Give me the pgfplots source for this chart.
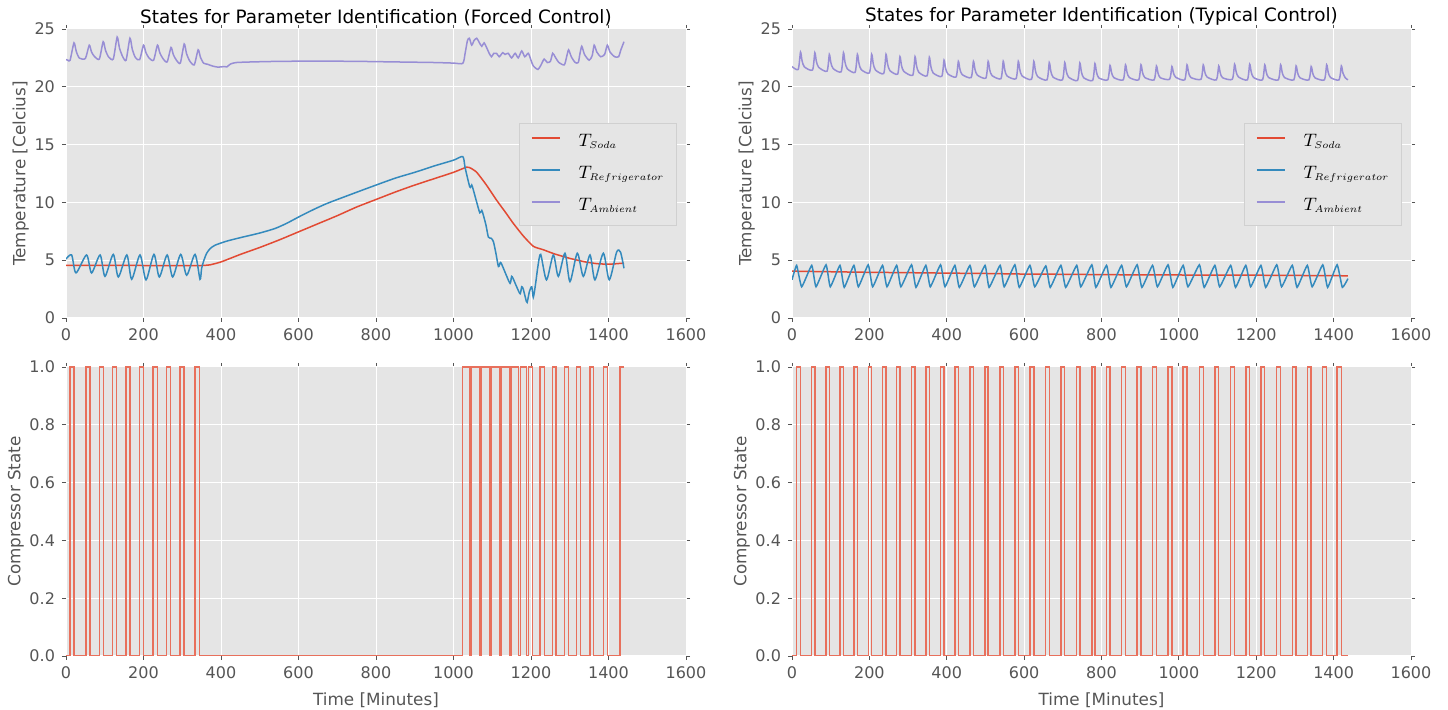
\documentclass[border=0pt]{standalone}
\usepackage{graphicx}
\usepackage{fontspec}
\setmainfont{DejaVu Sans}
\DeclareMathSizes{9}{9}{6}{5}
\usepackage{pgfplots}
\pgfplotsset{compat=1.18}
\newcommand\sub[1]{\scalebox{0.82}{$\scriptstyle #1$}}
\definecolor{ggbg}{HTML}{E5E5E5}
\definecolor{ggred}{HTML}{E24A33}
\definecolor{ggblue}{HTML}{348ABD}
\definecolor{ggpurple}{HTML}{988ED5}
\definecolor{ggtext}{HTML}{555555}
\definecolor{legedge}{HTML}{D0D0D0}
\definecolor{pulse}{HTML}{E8705C}
\pgfplotsset{
 ggstyle/.style={
  scale only axis, height=144.5pt,
  axis background/.style={fill=ggbg},
  axis line style={white, line width=0.5pt},
  grid=major, major grid style={white, line width=0.5pt},
  tick align=outside, major tick length=2pt,
  tick style={ggtext, line width=0.4pt},
  xmin=0, xmax=1600, xtick={0,200,...,1600},
  ticklabel style={font=\fontsize{8}{9.6}\selectfont, text=ggtext},
  /pgf/number format/assume math mode=true,
  /pgf/number format/1000 sep={},
  scaled ticks=false,
  label style={font=\fontsize{8.4}{10}\selectfont, text=ggtext},
  ylabel shift=-4pt,
  title style={font=\fontsize{9.2}{11}\selectfont, text=black, yshift=-6pt, inner sep=1.5pt},
 },
 tempstyle/.style={
  ymin=0, ymax=25, ytick={0,5,...,25},
  ylabel={Temperature [Celcius]},
  legend cell align=left,
  legend style={at={(0.985,0.674)}, anchor=north east, fill=ggbg, draw=legedge,
    inner xsep=6pt, inner ysep=5pt, row sep=7.3pt, column sep=9pt,
    font=\fontsize{9}{11}\selectfont, nodes={inner sep=0pt, text height=6.3pt, text depth=2.5pt}},
  legend image code/.code={\draw[##1, line width=0.8pt] (0pt,2.3pt) -- (14pt,2.3pt);},
 },
 compstyle/.style={
  ymin=0, ymax=1, ytick={0,0.2,...,1.0},
  yticklabel style={/pgf/number format/.cd, fixed, fixed zerofill, precision=1},
  ylabel={Compressor State}, xlabel={Time [Minutes]},
 },
 tl/.style={ggred, line width=0.75pt},
 bl/.style={ggblue, line width=0.75pt},
 pl/.style={ggpurple, line width=0.75pt},
 cl/.style={pulse, line width=0.7pt},
}
\begin{document}
\begin{tikzpicture}
\useasboundingbox (0,0) rectangle (724pt,355pt);
% ---------- top left
\begin{axis}[ggstyle, tempstyle, width=310pt, at={(33pt,196pt)}, anchor=south west,
  title={States for Parameter Identification (Forced Control)}]
\addplot[tl, smooth, tension=0.3] coordinates {(0,4.55)(100,4.55)(200,4.54)(300,4.54)(350,4.54)(372,4.6)(400,4.85)(450,5.5)(500,6.1)(550,6.75)(600,7.45)(650,8.15)(700,8.85)(750,9.6)(800,10.25)(850,10.9)(900,11.5)(950,12.05)(1000,12.6)(1034,13.05)(1045,12.95)(1060,12.6)(1085,11.5)(1111,10.2)(1135,9.1)(1154,8.2)(1180,7.1)(1206,6.2)(1232,5.9)(1260,5.55)(1301,5.15)(1340,4.85)(1370,4.7)(1400,4.65)(1422,4.7)(1440,4.75)};
\addlegendentry{$T_{\sub{Soda}}$}
\addplot[bl, smooth, tension=0.45] coordinates {(0,5.1)(14.6,5.45)(25.8,3.9)(53,5.45)(66,3.9)(88,5.45)(100.6,3.6)(122,5.5)(135,3.55)(157,5.45)(169.5,3.35)(191,5.45)(206.5,3.3)(227,5.5)(240.8,3.55)(261,5.45)(275.3,3.55)(296,5.5)(311.5,3.7)(333,5.5)(345.8,3.35)(350,4.3)(356,5.0)(363,5.6)(372,6.0)(385,6.3)(415,6.65)(450,6.95)(500,7.35)(540,7.75)(570,8.2)(604,8.8)(640,9.4)(673,9.9)(720,10.5)(784,11.3)(850,12.1)(900,12.6)(950,13.15)(1000,13.65)(1024,13.95)(1030,13.0)(1042,11.35)(1047,11.5)(1051,11.1)(1060,10.0)(1068,9.1)(1073,9.3)(1077,8.9)(1084,8.0)(1090,7.0)(1097,6.9)(1103,6.6)(1110,5.5)(1116,4.45)(1121,4.8)(1125,4.6)(1135,3.8)(1146,3.0)(1150,3.6)(1154,3.4)(1163,2.7)(1172,2.1)(1176,2.7)(1180,2.5)(1186,1.7)(1190,1.35)(1196,2.3)(1202,2.7)(1206,1.8)(1212,3.0)(1218,4.5)(1225,5.5)(1240,3.3)(1257.6,5.45)(1270.5,3.6)(1287.7,5.6)(1300.6,3.15)(1319.5,5.6)(1335,3.6)(1352.3,5.45)(1365,3.3)(1386.7,5.6)(1402,3.3)(1421,5.7)(1431,5.7)(1440,4.3)};
\addlegendentry{$T_{\sub{Refrigerator}}$}
\addplot[pl, smooth, tension=0.4] coordinates {(0,22.35)(5,22.3)(10.6,22.3)(20.6,23.8)(26.6,23.05)(34.6,22.48)(50,22.45)(60,23.6)(66,23.0)(74,22.6)(86,22.4)(96,23.9)(102,23.15)(110,22.58)(122,22.4)(132,24.3)(138,23.35)(146,22.63)(155,22.3)(165,24.2)(171,23.25)(179,22.53)(190,22.35)(200,23.6)(206,22.98)(214,22.5)(226,22.3)(236,23.6)(242,22.95)(250,22.45)(261,22.15)(271,23.4)(277,22.78)(285,22.3)(295,22.05)(305,23.7)(311,22.88)(319,22.25)(331,21.9)(341,23.2)(347,22.55)(355,22.05)(365,21.95)(380,21.78)(392,21.7)(400,21.72)(408,21.75)(415,21.72)(425,21.98)(440,22.1)(480,22.15)(550,22.2)(650,22.22)(750,22.2)(850,22.15)(950,22.1)(1000,22.05)(1024,22.03)(1030,22.9)(1036,24.0)(1041,24.2)(1047,23.6)(1053,24.0)(1060,24.2)(1067,23.8)(1073,23.5)(1079,23.8)(1086,23.35)(1092,22.9)(1098,22.6)(1104,22.9)(1111,22.9)(1118,22.6)(1127,22.95)(1133,22.8)(1141,22.9)(1150,22.5)(1159,22.9)(1167,22.5)(1176,23.1)(1184,22.6)(1193,22.9)(1200,22.3)(1206,21.8)(1218,21.5)(1226,21.9)(1234,22.4)(1242,22.1)(1250,22.2)(1256,22.9)(1262,22.6)(1272,22.1)(1286,21.9)(1292,22.6)(1297,23.2)(1304,22.6)(1314,22.1)(1322,22.1)(1326,22.8)(1331,23.5)(1338,22.8)(1350,22.3)(1358,22.7)(1363,23.6)(1370,23.0)(1380,22.6)(1390,22.8)(1397,23.6)(1404,23.0)(1416,22.6)(1426,22.6)(1432,23.2)(1440,23.9)};
\addlegendentry{$T_{\sub{Ambient}}$}
\end{axis}
% ---------- top right
\begin{axis}[ggstyle, tempstyle, width=309.5pt, at={(396pt,196pt)}, anchor=south west,
  title={States for Parameter Identification (Typical Control)}]
\addplot[tl, smooth, tension=0.3] coordinates {(0,4.05)(100,4.0)(200,3.95)(300,3.92)(400,3.88)(500,3.85)(600,3.8)(700,3.78)(800,3.75)(900,3.73)(1000,3.72)(1100,3.7)(1200,3.7)(1300,3.68)(1437,3.65)};
\addlegendentry{$T_{\sub{Soda}}$}
\addplot[bl, smooth, tension=0.25] coordinates {(0,3.3)(12,4.55)(25,2.7)(51,4.55)(62,2.7)(88,4.6)(99,2.7)(124,4.55)(135,2.65)(160,4.55)(171.5,2.7)(197,4.6)(208.5,2.7)(234,4.55)(245.5,2.7)(270.5,4.55)(281.5,2.7)(309,4.6)(320.5,2.65)(346,4.55)(357.5,2.7)(384,4.6)(395.5,2.7)(421,4.55)(432.5,2.65)(460,4.55)(471.5,2.7)(499,4.55)(509.5,2.65)(538,4.55)(548.5,2.7)(576,4.6)(587.5,2.65)(615,4.55)(627.5,2.7)(656,4.5)(667.5,2.65)(695,4.55)(707.5,2.65)(736,4.55)(746.5,2.7)(775,4.6)(785.5,2.65)(813,4.55)(824.5,2.65)(852,4.55)(864.5,2.7)(892,4.6)(904.5,2.65)(932,4.55)(944.5,2.7)(972,4.6)(984.5,2.65)(1011,4.55)(1023.5,2.7)(1053,4.6)(1065.5,2.65)(1093,4.55)(1105.5,2.7)(1134,4.55)(1146.5,2.65)(1173,4.55)(1185.5,2.7)(1212,4.55)(1224.5,2.65)(1253,4.6)(1265.5,2.7)(1293,4.55)(1305.5,2.65)(1332,4.55)(1344.5,2.7)(1372,4.6)(1384.5,2.65)(1409,4.6)(1422.5,2.65)(1437,3.4)};
\addlegendentry{$T_{\sub{Refrigerator}}$}
\addplot[pl, smooth, tension=0.4] coordinates {(0,21.75)(16,21.5)(22,23.0)(26,22.25)(32,21.72)(53,21.45)(59,22.95)(63,22.2)(69,21.68)(90.5,21.35)(96.5,22.8)(100.5,22.08)(106.5,21.57)(127,21.3)(133,22.95)(137,22.13)(143,21.55)(163,21.25)(169,22.8)(173,22.03)(179,21.48)(200,21.2)(206,22.8)(210,22.0)(216,21.44)(237,21.15)(243,22.8)(247,21.98)(253,21.4)(273,21.1)(279,22.6)(283,21.85)(289,21.33)(312,21.0)(318,22.6)(322,21.8)(328,21.24)(349,20.95)(355,22.55)(359,21.75)(365,21.19)(387,20.9)(393,22.3)(397,21.6)(403,21.11)(424,20.85)(430,22.2)(434,21.53)(440,21.05)(463,20.8)(469,22.2)(473,21.5)(479,21.01)(501,20.75)(507,22.2)(511,21.48)(517,20.97)(540,20.7)(546,22.2)(550,21.45)(556,20.93)(579,20.7)(585,22.2)(589,21.45)(595,20.93)(619,20.65)(625,22.2)(629,21.43)(635,20.88)(659,20.6)(665,22.1)(669,21.35)(675,20.83)(699,20.6)(705,22.1)(709,21.35)(715,20.83)(738,20.55)(744,22.05)(748,21.3)(754,20.78)(777,20.55)(783,22.0)(787,21.28)(793,20.77)(816,20.6)(822,21.85)(826,21.23)(832,20.79)(856,20.6)(862,21.9)(866,21.25)(872,20.8)(896,20.6)(902,21.9)(906,21.25)(912,20.8)(936,20.6)(942,21.8)(946,21.2)(952,20.78)(976,20.65)(982,21.75)(986,21.2)(992,20.82)(1015,20.6)(1021,21.9)(1025,21.25)(1031,20.8)(1057,20.65)(1063,21.9)(1067,21.28)(1073,20.84)(1097,20.6)(1103,21.8)(1107,21.2)(1113,20.78)(1138,20.65)(1144,21.95)(1148,21.3)(1154,20.85)(1177,20.6)(1183,21.95)(1187,21.28)(1193,20.8)(1216,20.6)(1222,21.9)(1226,21.25)(1232,20.8)(1257,20.6)(1263,21.9)(1267,21.25)(1273,20.8)(1297,20.6)(1303,21.8)(1307,21.2)(1313,20.78)(1336,20.6)(1342,21.75)(1346,21.18)(1352,20.77)(1376,20.6)(1382,21.9)(1386,21.25)(1392,20.8)(1414,20.6)(1420,21.8)(1424,21.2)(1430,20.78)(1437,20.6)};
\addlegendentry{$T_{\sub{Ambient}}$}
\end{axis}
% ---------- bottom left
\begin{axis}[ggstyle, compstyle, width=310pt, at={(33pt,27pt)}, anchor=south west]
\addplot[cl] coordinates {(0,0)(10,0)(10,1)(20.5,1)(20.5,0)(51.5,0)(51.5,1)(62,1)(62,0)(86,0)(86,1)(96,1)(96,0)(120.5,0)(120.5,1)(131,1)(131,0)(155,0)(155,1)(165,1)(165,0)(189,0)(189,1)(199.5,1)(199.5,0)(225,0)(225,1)(235.5,1)(235.5,0)(260,0)(260,1)(270,1)(270,0)(294,0)(294,1)(304.5,1)(304.5,0)(333,0)(333,1)(344,1)(344,0)(1022.8,0)(1022.8,1)(1042.6,1)(1042.6,0)(1046.9,0)(1046.9,1)(1068.4,1)(1068.4,0)(1072.7,0)(1072.7,1)(1092.5,1)(1092.5,0)(1096.8,0)(1096.8,1)(1118.3,1)(1118.3,0)(1122.6,0)(1122.6,1)(1144.1,1)(1144.1,0)(1148.4,0)(1148.4,1)(1167.3,1)(1167.3,0)(1173.3,0)(1173.3,1)(1188.8,1)(1188.8,0)(1193.1,0)(1193.1,1)(1203.4,1)(1203.4,0)(1223.2,0)(1223.2,1)(1234.4,1)(1234.4,0)(1255.1,0)(1255.1,1)(1264.5,1)(1264.5,0)(1286,0)(1286,1)(1296.3,1)(1296.3,0)(1317.8,0)(1317.8,1)(1328.2,1)(1328.2,0)(1352.3,0)(1352.3,1)(1360.9,1)(1360.9,0)(1386.7,0)(1386.7,1)(1397.9,1)(1397.9,0)(1429.7,0)(1429.7,1)(1440,1)};
\end{axis}
% ---------- bottom right
\begin{axis}[ggstyle, compstyle, width=309.5pt, at={(396pt,27pt)}, anchor=south west]
\addplot[cl] coordinates {(0,0)(12,0)(12,1)(22,1)(22,0)(51,0)(51,1)(59,1)(59,0)(88,0)(88,1)(96.5,1)(96.5,0)(124,0)(124,1)(133,1)(133,0)(160,0)(160,1)(169,1)(169,0)(197,0)(197,1)(206,1)(206,0)(234,0)(234,1)(243,1)(243,0)(270.5,0)(270.5,1)(279,1)(279,0)(309,0)(309,1)(318,1)(318,0)(346,0)(346,1)(355,1)(355,0)(384,0)(384,1)(393,1)(393,0)(421,0)(421,1)(430,1)(430,0)(460,0)(460,1)(469,1)(469,0)(499,0)(499,1)(507,1)(507,0)(538,0)(538,1)(546,1)(546,0)(576,0)(576,1)(585,1)(585,0)(615,0)(615,1)(625,1)(625,0)(656,0)(656,1)(665,1)(665,0)(695,0)(695,1)(705,1)(705,0)(736,0)(736,1)(744,1)(744,0)(775,0)(775,1)(783,1)(783,0)(813,0)(813,1)(822,1)(822,0)(852,0)(852,1)(862,1)(862,0)(892,0)(892,1)(902,1)(902,0)(932,0)(932,1)(942,1)(942,0)(972,0)(972,1)(982,1)(982,0)(1011,0)(1011,1)(1021,1)(1021,0)(1053,0)(1053,1)(1063,1)(1063,0)(1093,0)(1093,1)(1103,1)(1103,0)(1134,0)(1134,1)(1144,1)(1144,0)(1173,0)(1173,1)(1183,1)(1183,0)(1212,0)(1212,1)(1222,1)(1222,0)(1253,0)(1253,1)(1263,1)(1263,0)(1293,0)(1293,1)(1303,1)(1303,0)(1332,0)(1332,1)(1342,1)(1342,0)(1372,0)(1372,1)(1382,1)(1382,0)(1409,0)(1409,1)(1420,1)(1420,0)(1437,0)};
\end{axis}
\end{tikzpicture}
\end{document}
